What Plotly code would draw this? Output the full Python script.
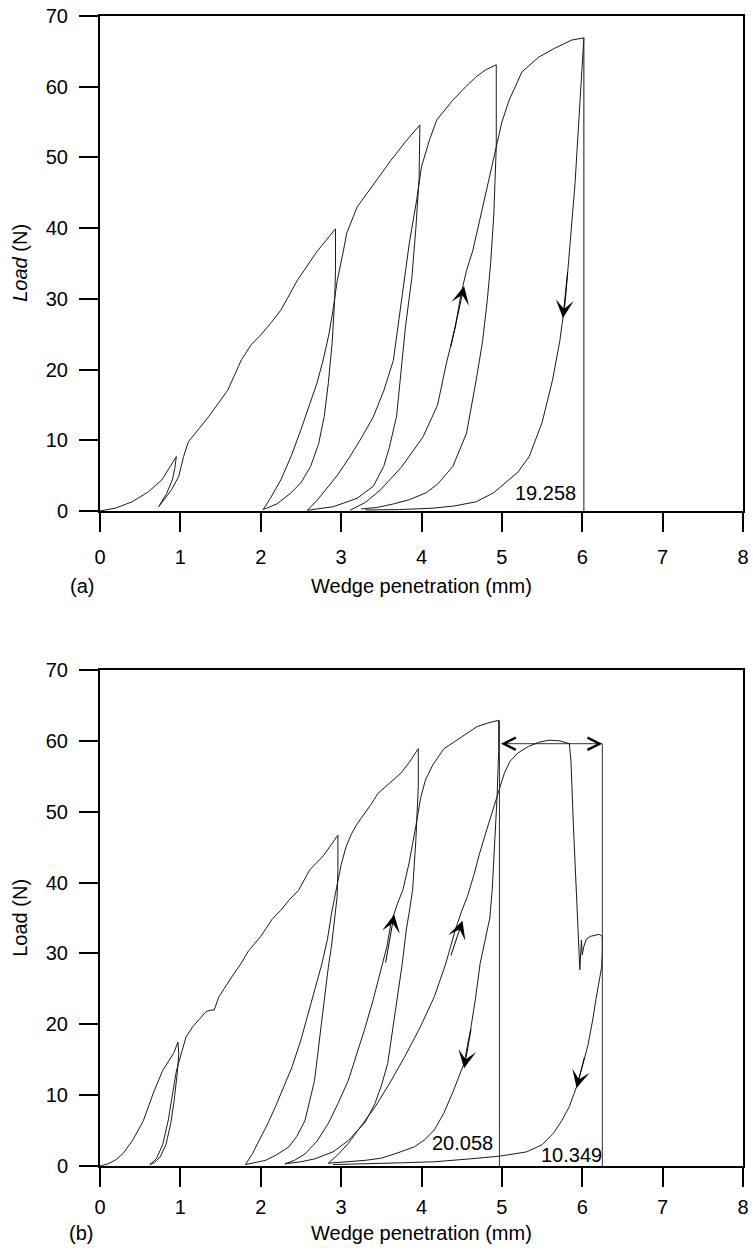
import plotly.graph_objects as go

# ---------------- Panel (a): load vs wedge penetration ----------------
a_load1_x = [0, 0.19, 0.4, 0.6, 0.77, 0.95]
a_load1_y = [0, 0.4, 1.3, 2.7, 4.4, 7.7]
a_unload1_x = [0.95, 0.93, 0.9, 0.83, 0.73]
a_unload1_y = [7.7, 6.0, 4.4, 2.5, 0.6]
a_reload1_x = [0.73, 0.81, 0.89, 0.98, 1.04, 1.1, 1.22, 1.35, 1.59, 1.76, 1.88, 2.0, 2.12, 2.25, 2.46, 2.7, 2.93]
a_reload1_y = [0.6, 1.8, 3.0, 4.9, 7.7, 9.8, 11.5, 13.3, 17.1, 21.4, 23.5, 24.9, 26.5, 28.4, 32.7, 36.7, 39.9]
a_unload2_x = [2.93, 2.93, 2.92, 2.89, 2.84, 2.79, 2.72, 2.62, 2.5, 2.37, 2.2, 2.03]
a_unload2_y = [39.9, 34.0, 30.0, 24.0, 18.0, 13.4, 9.5, 6.3, 4.0, 2.5, 1.0, 0.2]
a_reload2_x = [2.03, 2.12, 2.25, 2.38, 2.5, 2.6, 2.7, 2.78, 2.85, 2.9, 2.95, 3.03, 3.07, 3.2, 3.32, 3.45, 3.62, 3.8, 3.98]
a_reload2_y = [0.2, 1.8, 4.4, 7.8, 11.5, 14.8, 18.1, 21.5, 25.1, 28.5, 32.5, 36.9, 39.3, 43.0, 44.9, 46.8, 49.6, 52.2, 54.6]
a_unload3_x = [3.98, 3.97, 3.93, 3.88, 3.8, 3.77, 3.72, 3.69, 3.6, 3.53, 3.4, 3.2, 2.9, 2.58]
a_unload3_y = [54.6, 47.0, 40.0, 33.0, 26.0, 22.8, 17.0, 13.4, 9.0, 6.3, 3.5, 1.8, 0.6, 0.1]
a_reload3_x = [2.58, 2.7, 2.8, 2.95, 3.11, 3.25, 3.4, 3.53, 3.65, 3.71, 3.76, 3.85, 3.94, 4.0, 4.1, 4.19, 4.39, 4.55, 4.68, 4.8, 4.93]
a_reload3_y = [0.1, 1.5, 2.9, 5.0, 7.7, 10.3, 13.3, 17.0, 21.3, 26.0, 30.5, 38.0, 44.0, 48.7, 52.5, 55.3, 58.1, 60.0, 61.4, 62.4, 63.1]
a_unload4_x = [4.93, 4.93, 4.9, 4.86, 4.82, 4.76, 4.68, 4.56, 4.39, 4.2, 4.06, 3.85, 3.65, 3.45, 3.25]
a_unload4_y = [63.1, 51.5, 42.0, 35.0, 30.0, 24.0, 18.5, 11.0, 6.3, 3.8, 2.6, 1.6, 1.0, 0.5, 0.3]
a_reload4_x = [3.11, 3.3, 3.49, 3.75, 4.02, 4.2, 4.31, 4.42, 4.49, 4.56, 4.64, 4.76, 4.86, 4.93, 5.0, 5.09, 5.25, 5.46, 5.65, 5.87, 6.02]
a_reload4_y = [0.1, 1.2, 3.0, 6.2, 10.5, 15.0, 20.9, 26.0, 30.6, 34.0, 36.9, 43.0, 48.0, 51.5, 55.0, 58.1, 62.1, 64.2, 65.4, 66.6, 66.9]
a_unload5_x = [6.02, 6.0, 5.96, 5.91, 5.85, 5.79, 5.72, 5.63, 5.5, 5.34, 5.2, 5.05, 4.9, 4.68, 4.4, 4.14, 3.73, 3.3]
a_unload5_y = [66.9, 62.8, 55.0, 46.3, 38.0, 29.8, 24.0, 18.5, 12.5, 7.7, 5.5, 4.0, 2.6, 1.3, 0.7, 0.4, 0.2, 0.15]
a_marker_x = [6.02]
a_marker_top = [66.9]
a_energy_label = ["19.258"]

# ---------------- Panel (b) ----------------
b_load1_x = [0, 0.1, 0.2, 0.29, 0.41, 0.54, 0.66, 0.78, 0.86, 0.92, 0.97]
b_load1_y = [0, 0.3, 0.9, 1.8, 3.7, 6.4, 10.2, 13.5, 14.9, 16.0, 17.5]
b_unload1_x = [0.97, 0.98, 0.96, 0.92, 0.88, 0.82, 0.75, 0.68, 0.62]
b_unload1_y = [17.5, 15.8, 13.0, 9.0, 6.0, 3.0, 1.3, 0.5, 0.2]
b_reload1_x = [0.62, 0.7, 0.78, 0.85, 0.9, 0.95, 1.01, 1.07, 1.15, 1.23, 1.32, 1.38, 1.42, 1.48, 1.56, 1.64, 1.75, 1.85, 2.0, 2.14, 2.25, 2.35, 2.47, 2.61, 2.78, 2.96]
b_reload1_y = [0.2, 1.0, 3.0, 6.5, 10.0, 13.4, 15.8, 18.2, 19.6, 20.6, 21.8, 22.0, 22.0, 23.9, 25.4, 26.7, 28.5, 30.4, 32.4, 34.8, 36.1, 37.5, 38.9, 41.8, 43.8, 46.7]
b_unload2_x = [2.96, 2.96, 2.95, 2.92, 2.88, 2.84, 2.8, 2.76, 2.67, 2.55, 2.45, 2.35, 2.2, 2.06, 1.81]
b_unload2_y = [46.7, 42.0, 38.0, 35.0, 31.0, 28.0, 24.0, 20.6, 12.1, 6.4, 4.2, 2.7, 1.6, 0.8, 0.2]
b_reload2_x = [1.81, 1.9, 1.98, 2.08, 2.18, 2.28, 2.39, 2.5, 2.59, 2.68, 2.76, 2.83, 2.88, 2.93, 2.96, 3.0, 3.06, 3.13, 3.2, 3.29, 3.37, 3.46, 3.6, 3.74, 3.85, 3.96]
b_reload2_y = [0.2, 1.8, 3.6, 5.8, 8.3, 11.0, 14.0, 17.8, 21.5, 25.0, 28.5, 32.0, 35.6, 38.5, 40.4, 42.5, 45.0, 46.9, 48.3, 49.7, 51.0, 52.6, 54.0, 55.4, 57.0, 58.9]
b_unload3_x = [3.96, 3.96, 3.93, 3.89, 3.85, 3.81, 3.76, 3.7, 3.64, 3.58, 3.5, 3.42, 3.3, 3.09, 2.9, 2.67, 2.5, 2.3]
b_unload3_y = [58.9, 53.5, 46.0, 39.0, 36.0, 33.3, 28.5, 23.9, 19.0, 14.5, 11.3, 8.8, 6.2, 3.6, 2.0, 1.0, 0.6, 0.3]
b_reload3_x = [2.3, 2.42, 2.55, 2.7, 2.84, 2.96, 3.09, 3.19, 3.29, 3.4, 3.5, 3.57, 3.62, 3.7, 3.77, 3.85, 3.93, 3.99, 4.05, 4.14, 4.28, 4.44, 4.57, 4.69, 4.82, 4.96]
b_reload3_y = [0.3, 0.8, 1.7, 3.5, 6.0, 8.8, 12.1, 15.5, 19.2, 23.5, 27.7, 31.0, 34.3, 37.0, 39.0, 43.0, 48.0, 52.0, 54.5, 56.6, 58.9, 60.1, 61.0, 62.0, 62.5, 62.9]
b_unload4_x = [4.96, 4.96, 4.94, 4.91, 4.88, 4.85, 4.79, 4.73, 4.67, 4.61, 4.53, 4.4, 4.28, 4.16, 4.04, 3.91, 3.74, 3.5, 3.3, 3.09, 2.84]
b_unload4_y = [62.9, 58.5, 52.0, 45.0, 39.0, 35.0, 32.0, 28.6, 23.5, 19.2, 14.5, 10.7, 7.5, 5.1, 3.7, 2.7, 2.0, 1.1, 0.8, 0.6, 0.4]
b_reload4_x = [2.84, 2.96, 3.09, 3.25, 3.42, 3.6, 3.79, 3.98, 4.16, 4.3, 4.42, 4.5, 4.57, 4.65, 4.72, 4.81, 4.9, 4.96, 5.03, 5.1, 5.2, 5.33, 5.46, 5.59, 5.72, 5.84]
b_reload4_y = [0.4, 1.6, 3.2, 5.6, 8.3, 11.6, 15.4, 19.5, 23.9, 28.5, 33.3, 36.0, 38.0, 41.0, 44.0, 47.4, 50.8, 53.1, 55.4, 57.1, 58.3, 59.2, 59.8, 60.1, 60.0, 59.6]
b_drop_x = [5.84, 5.86, 5.89, 5.92, 5.95, 5.97, 5.99, 6.0, 6.02, 6.05, 6.1, 6.16, 6.21, 6.25]
b_drop_y = [59.6, 57.0, 48.0, 40.4, 32.0, 27.7, 31.9, 29.8, 31.0, 32.0, 32.4, 32.6, 32.7, 32.4]
b_unload5_x = [6.25, 6.25, 6.24, 6.21, 6.17, 6.13, 6.07, 6.0, 5.93, 5.84, 5.74, 5.64, 5.5, 5.31, 5.15, 4.98, 4.6, 4.16, 3.75, 3.33, 2.9]
b_unload5_y = [32.4, 30.0, 28.0, 26.2, 23.5, 20.6, 17.0, 14.0, 11.2, 8.4, 6.3, 4.6, 3.0, 2.0, 1.7, 1.4, 1.0, 0.6, 0.45, 0.3, 0.2]
b_marker_x = [4.97, 6.25]
b_marker_top = [62.9, 59.6]
b_span_y = [59.6]
b_energy_labels = ["20.058", "10.349"]

x_ticks = [0, 1, 2, 3, 4, 5, 6, 7, 8]
y_ticks = [0, 10, 20, 30, 40, 50, 60, 70]

LINE = dict(color="#1a1a1a", width=1)
FONT = "Liberation Sans, Arial, Helvetica, sans-serif"

segments_a = [
    (a_load1_x, a_load1_y), (a_unload1_x, a_unload1_y), (a_reload1_x, a_reload1_y),
    (a_unload2_x, a_unload2_y), (a_reload2_x, a_reload2_y), (a_unload3_x, a_unload3_y),
    (a_reload3_x, a_reload3_y), (a_unload4_x, a_unload4_y), (a_reload4_x, a_reload4_y),
    (a_unload5_x, a_unload5_y),
]
segments_b = [
    (b_load1_x, b_load1_y), (b_unload1_x, b_unload1_y), (b_reload1_x, b_reload1_y),
    (b_unload2_x, b_unload2_y), (b_reload2_x, b_reload2_y), (b_unload3_x, b_unload3_y),
    (b_reload3_x, b_reload3_y), (b_unload4_x, b_unload4_y), (b_reload4_x, b_reload4_y),
    (b_drop_x, b_drop_y), (b_unload5_x, b_unload5_y),
]

fig = go.Figure()
for sx, sy in segments_a:
    fig.add_trace(go.Scatter(x=sx, y=sy, mode="lines", line=LINE, xaxis="x", yaxis="y",
                             showlegend=False, hoverinfo="skip"))
for mx, mt in zip(a_marker_x, a_marker_top):
    fig.add_trace(go.Scatter(x=[mx, mx], y=[0, mt], mode="lines", line=LINE, xaxis="x", yaxis="y",
                             showlegend=False, hoverinfo="skip"))
for sx, sy in segments_b:
    fig.add_trace(go.Scatter(x=sx, y=sy, mode="lines", line=LINE, xaxis="x2", yaxis="y2",
                             showlegend=False, hoverinfo="skip"))
for mx, mt in zip(b_marker_x, b_marker_top):
    fig.add_trace(go.Scatter(x=[mx, mx], y=[0, mt], mode="lines",
                             line=dict(color="#333333", width=1), xaxis="x2", yaxis="y2",
                             showlegend=False, hoverinfo="skip"))

TICKFONT = dict(size=20, color="black", family=FONT)
axis_x = dict(range=[0, 8], tickvals=x_ticks, showline=True, linewidth=2, linecolor="black",
              mirror=True, ticks="outside", ticklen=19, tickwidth=2, tickcolor="black",
              showgrid=False, zeroline=False, tickfont=TICKFONT,
              ticklabelstandoff=8, fixedrange=True)
axis_y = dict(range=[0, 70], tickvals=y_ticks, showline=True, linewidth=2, linecolor="black",
              mirror=True, ticks="outside", ticklen=19, tickwidth=2, tickcolor="black",
              showgrid=False, zeroline=False, tickfont=TICKFONT,
              ticklabelstandoff=7, fixedrange=True)

W, H = 753, 1250
ML, MR, MT, MB = 100, 4, 16, 84
PW, PH = W - ML - MR, H - MT - MB


def px_x(p):
    return (p - ML) / PW


def px_y(p):
    return 1 - (p - MT) / PH


fig.update_layout(
    width=W, height=H, margin=dict(l=ML, r=MR, t=MT, b=MB),
    paper_bgcolor="white", plot_bgcolor="white",
    font=dict(family=FONT, color="black"),
    xaxis=dict(axis_x, domain=[0, 1], anchor="y"),
    yaxis=dict(axis_y, domain=[px_y(511), 1], anchor="x"),
    xaxis2=dict(axis_x, domain=[0, 1], anchor="y2", ticklabelstandoff=3),
    yaxis2=dict(axis_y, domain=[0, px_y(670)], anchor="x2"),
)

ann = []
TXT = dict(size=20, color="black", family=FONT)
# axis titles and panel labels
ann.append(dict(text="Wedge penetration (mm)", xref="paper", yref="paper", x=0.5, y=px_y(586),
                showarrow=False, font=TXT, xanchor="center", yanchor="middle"))
ann.append(dict(text="Wedge penetration (mm)", xref="paper", yref="paper", x=0.5, y=px_y(1233),
                showarrow=False, font=TXT, xanchor="center", yanchor="middle"))
ann.append(dict(text="(a)", xref="paper", yref="paper", x=px_x(82), y=px_y(586),
                showarrow=False, font=TXT, xanchor="center", yanchor="middle"))
ann.append(dict(text="(b)", xref="paper", yref="paper", x=px_x(81), y=px_y(1233),
                showarrow=False, font=TXT, xanchor="center", yanchor="middle"))
ann.append(dict(text="<i>Load</i> (N)", xref="paper", yref="paper", x=px_x(19), y=px_y(263),
                showarrow=False, font=TXT, textangle=-90, xanchor="center", yanchor="middle"))
ann.append(dict(text="Load (N)", xref="paper", yref="paper", x=px_x(19), y=px_y(918),
                showarrow=False, font=TXT, textangle=-90, xanchor="center", yanchor="middle"))

# energy labels
ann.append(dict(text=a_energy_label[0], xref="x", yref="y", x=5.95, y=2.6, showarrow=False,
                font=TXT, xanchor="right", yanchor="middle"))
ann.append(dict(text=b_energy_labels[0], xref="x2", yref="y2", x=4.92, y=3.3, showarrow=False,
                font=TXT, xanchor="right", yanchor="middle"))
ann.append(dict(text=b_energy_labels[1], xref="x2", yref="y2", x=6.27, y=1.5, showarrow=False,
                font=TXT, xanchor="right", yanchor="middle"))


# direction arrows along curves
def arrow(xr, yr, tip, tail):
    return dict(text="", xref=xr, yref=yr, axref=xr, ayref=yr, x=tip[0], y=tip[1],
                ax=tail[0], ay=tail[1], showarrow=True, arrowhead=3, arrowsize=3.0,
                arrowwidth=1, arrowcolor="black")


ann.append(arrow("x", "y", (4.53, 31.8), (4.36, 23.0)))
ann.append(arrow("x", "y", (5.76, 27.3), (5.82, 34.0)))
ann.append(arrow("x2", "y2", (3.66, 35.5), (3.55, 28.5)))
ann.append(arrow("x2", "y2", (4.51, 34.6), (4.36, 29.5)))
ann.append(arrow("x2", "y2", (4.53, 13.8), (4.62, 19.5)))
ann.append(arrow("x2", "y2", (5.93, 11.0), (6.03, 15.5)))

# double-headed span arrow (open heads)
ann.append(dict(text="", xref="x2", yref="y2", axref="x2", ayref="y2",
                x=b_marker_x[1], y=b_span_y[0], ax=b_marker_x[0], ay=b_span_y[0],
                showarrow=True, arrowside="end+start", arrowhead=5, startarrowhead=5,
                arrowsize=3.0, startarrowsize=3.0, arrowwidth=0.8, arrowcolor="black"))

fig.update_layout(annotations=ann)
fig.write_html("out.html")
